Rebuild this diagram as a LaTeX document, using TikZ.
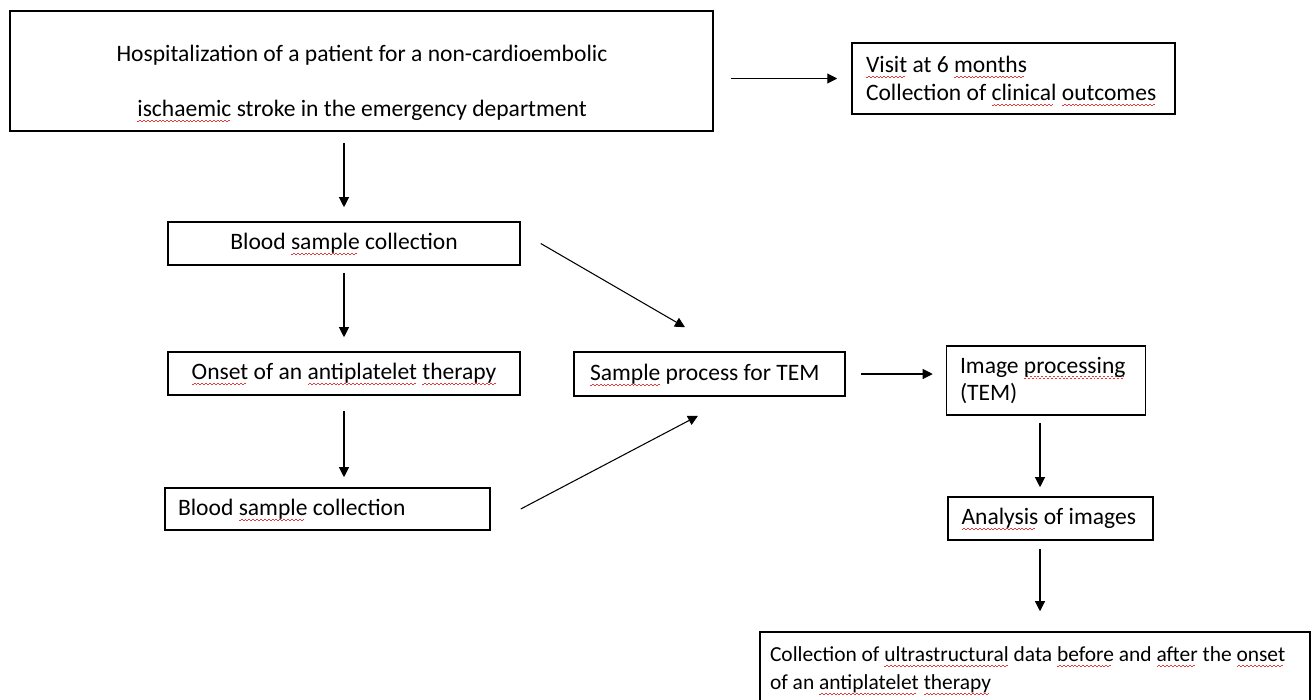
\documentclass[tikz,border=0pt]{standalone}
\usepackage{fontspec}
\setmainfont{Carlito}
\usetikzlibrary{arrows.meta}
\definecolor{spellred}{RGB}{226,60,60}
\newsavebox{\spellbox}
\newcommand{\spell}[1]{\sbox{\spellbox}{#1}%
  \rlap{\raisebox{-3pt}[0pt][0pt]{\color{spellred}\hbox to\wd\spellbox{%
  \leaders\hbox{\rule{1.1pt}{0.4pt}\rule[0.7pt]{1.1pt}{0.4pt}}\hfil}}}%
  \usebox{\spellbox}}

\begin{document}
\begin{tikzpicture}[x=0.02cm,y=-0.02cm,
  box/.style={draw,line width=0.9pt,inner sep=0pt,minimum height=0.86cm},
  leftbox/.style={box,align=flush left},
  arr/.style={-{Triangle[length=0.2cm,width=0.2cm]},line width=0.6pt},
  font=\fontsize{13.4}{15.9}\selectfont]
\useasboundingbox (0,0) rectangle (1316,700);
\clip (0,0) rectangle (1316,700);

% boxes
\node [box,minimum width=14.06cm,minimum height=2.4cm] (hosp) at (361.5,71) {};
\node [align=flush center,font=\fontsize{13.4}{31.2}\selectfont] (hosptext) at (362,83)
  {Hospitalization of a patient for a non-cardioembolic\\\spell{ischaemic} stroke in the emergency department};
\node [leftbox,text width=5.9cm,inner xsep=0.28cm,minimum height=1.42cm] (visit) at (1013.5,78.5)
  {\spell{Visit} at 6 \spell{months}\\Collection of \spell{clinical} \spell{outcomes}};
\node [box,minimum width=7.04cm] (blood1) at (344,243.5) {Blood \spell{sample} collection};
\node [box,minimum width=7.04cm] (onset) at (344,373.5) {\spell{Onset} of an \spell{antiplatelet} \spell{therapy}};
\node [leftbox,text width=5.98cm,inner xsep=0.26cm,minimum height=0.84cm] (blood2) at (327.5,509)
  {Blood \spell{sample} collection};
\node [leftbox,text width=4.78cm,inner xsep=0.32cm,minimum height=0.88cm] (sample) at (709.5,374)
  {\spell{Sample} process for TEM};
\node [leftbox,text width=3.44cm,inner xsep=0.27cm,minimum height=1.38cm] (image) at (1046,380.5)
  {Image \spell{processing}\\(TEM)};
\node [leftbox,text width=3.56cm,inner xsep=0.27cm] (analysis) at (1050.5,518.5)
  {\spell{Analysis} of images};
\node [leftbox,text width=10.6cm,inner xsep=0.2cm,minimum height=1.52cm,font=\fontsize{12.2}{15.9}\selectfont] (collect) at (1035,670)
  {Collection of \spell{ultrastructural} data \spell{before} and \spell{after} the \spell{onset}\\of an \spell{antiplatelet} \spell{therapy}};

% arrows
\draw [arr,shorten <=0.34cm,shorten >=0.28cm] (hosp.east |- visit.west) -- (visit.west);
\draw [arr,shorten <=0.22cm,shorten >=0.28cm] (hosp.south -| blood1.north) -- (blood1.north);
\draw [arr,shorten <=0.14cm,shorten >=0.28cm] (blood1.south) -- (onset.north);
\draw [arr,shorten <=0.3cm,shorten >=0.2cm] (onset.south) -- (blood2.north -| onset.south);
\draw [arr] ([xshift=0.4cm]blood1.east) -- ([xshift=-0.49cm,yshift=0.48cm]sample.north);
\draw [arr] ([xshift=0.6cm]blood2.east) -- ([xshift=-0.23cm,yshift=-0.38cm]sample.south);
\draw [arr,shorten <=0.3cm,shorten >=0.26cm] (sample.east) -- (sample.east -| image.west);
\draw [arr,shorten <=0.14cm,shorten >=0.18cm] ([xshift=-0.12cm]image.south) -- ([xshift=-0.12cm]image.south |- analysis.north);
\draw [arr,shorten <=0.16cm,shorten >=0.4cm] ([xshift=-0.21cm]analysis.south) -- ([xshift=-0.21cm]analysis.south |- collect.north);
\end{tikzpicture}
\end{document}
